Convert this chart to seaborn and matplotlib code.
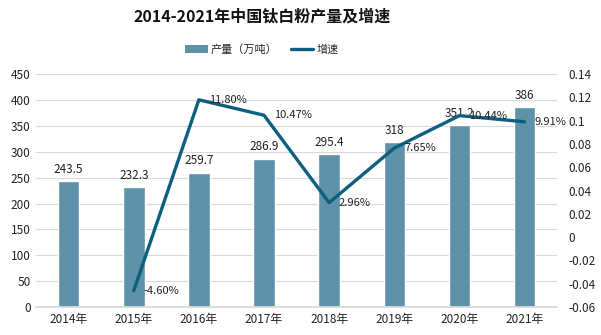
import matplotlib
matplotlib.use("Agg")
import matplotlib.pyplot as plt
import seaborn as sns
import pandas as pd
import numpy as np
from matplotlib.patches import Patch
from matplotlib.lines import Line2D

years = ["2014年", "2015年", "2016年", "2017年", "2018年", "2019年", "2020年", "2021年"]
output = [243.5, 232.3, 259.7, 286.9, 295.4, 318, 351.2, 386]
growth = [np.nan, -0.046, 0.118, 0.1047, 0.0296, 0.0765, 0.1044, 0.0991]
growth_labels = ["", "-4.60%", "11.80%", "10.47%", "2.96%", "7.65%", "10.44%", "9.91%"]

sns.set_theme(style="white")
plt.rcParams['font.family'] = ['Noto Sans CJK SC', 'DejaVu Sans']

bar_color = "#5e92a8"
line_color = "#0c5f7e"

fig = plt.figure(figsize=(6.01, 3.35), dpi=100)
ax = fig.add_axes([0.060, 0.0836, 0.867, 0.695])

df = pd.DataFrame({"year": years, "output": output, "growth": growth})
sns.barplot(data=df, x="year", y="output", color=bar_color, width=0.33,
            saturation=1, ax=ax, zorder=2)
ax.set_ylim(0, 450)
ax.set_yticks(range(0, 451, 50))
ax.set_xlim(-0.5, len(years) - 0.5)
ax.set_xlabel("")
ax.set_ylabel("")
ax.yaxis.grid(True, color="#d9d9d9", linewidth=0.8, zorder=0)
ax.set_axisbelow(True)
for s in ["top", "right", "left"]:
    ax.spines[s].set_visible(False)
ax.spines["bottom"].set_color("#d9d9d9")
ax.tick_params(axis="both", labelsize=8.5, colors="#222222", length=0, pad=4)

for i, v in enumerate(output):
    ax.text(i, v + 10, f"{v:g}", ha="center", va="bottom", fontsize=8.5, color="#222222")

ax2 = ax.twinx()
xs = np.arange(len(years))
sns.lineplot(x=xs, y=growth, color=line_color, linewidth=2.4, ax=ax2, zorder=3)
ax2.set_ylim(-0.06, 0.14)
ticks2 = np.round(np.arange(-0.06, 0.141, 0.02), 2)
ax2.set_yticks(ticks2)
ax2.set_yticklabels([f"{t:g}" for t in ticks2])
for s in ["top", "right", "left", "bottom"]:
    ax2.spines[s].set_visible(False)
ax2.tick_params(axis="y", labelsize=8.5, colors="#222222", length=0, pad=8)
ax2.grid(False)

for i, (g, lab) in enumerate(zip(growth, growth_labels)):
    if lab:
        ax2.annotate(lab, (i, g), xytext=(7, 0), textcoords="offset points",
                     ha="left", va="center", fontsize=8, color="#222222")

fig.text(0.436, 0.952, "2014-2021年中国钛白粉产量及增速", ha="center", va="center",
         fontsize=11.5, fontweight="bold", color="#111111")

handles = [Patch(facecolor=bar_color, edgecolor="none"),
           Line2D([0], [0], color=line_color, linewidth=2.4)]
fig.legend(handles, ["产量（万吨）", "增速"], loc="center", bbox_to_anchor=(0.436, 0.852),
           ncol=2, frameon=False, fontsize=8, handlelength=2.0, columnspacing=1.2,
           handletextpad=0.3)

fig.savefig("out.png", dpi=100)
